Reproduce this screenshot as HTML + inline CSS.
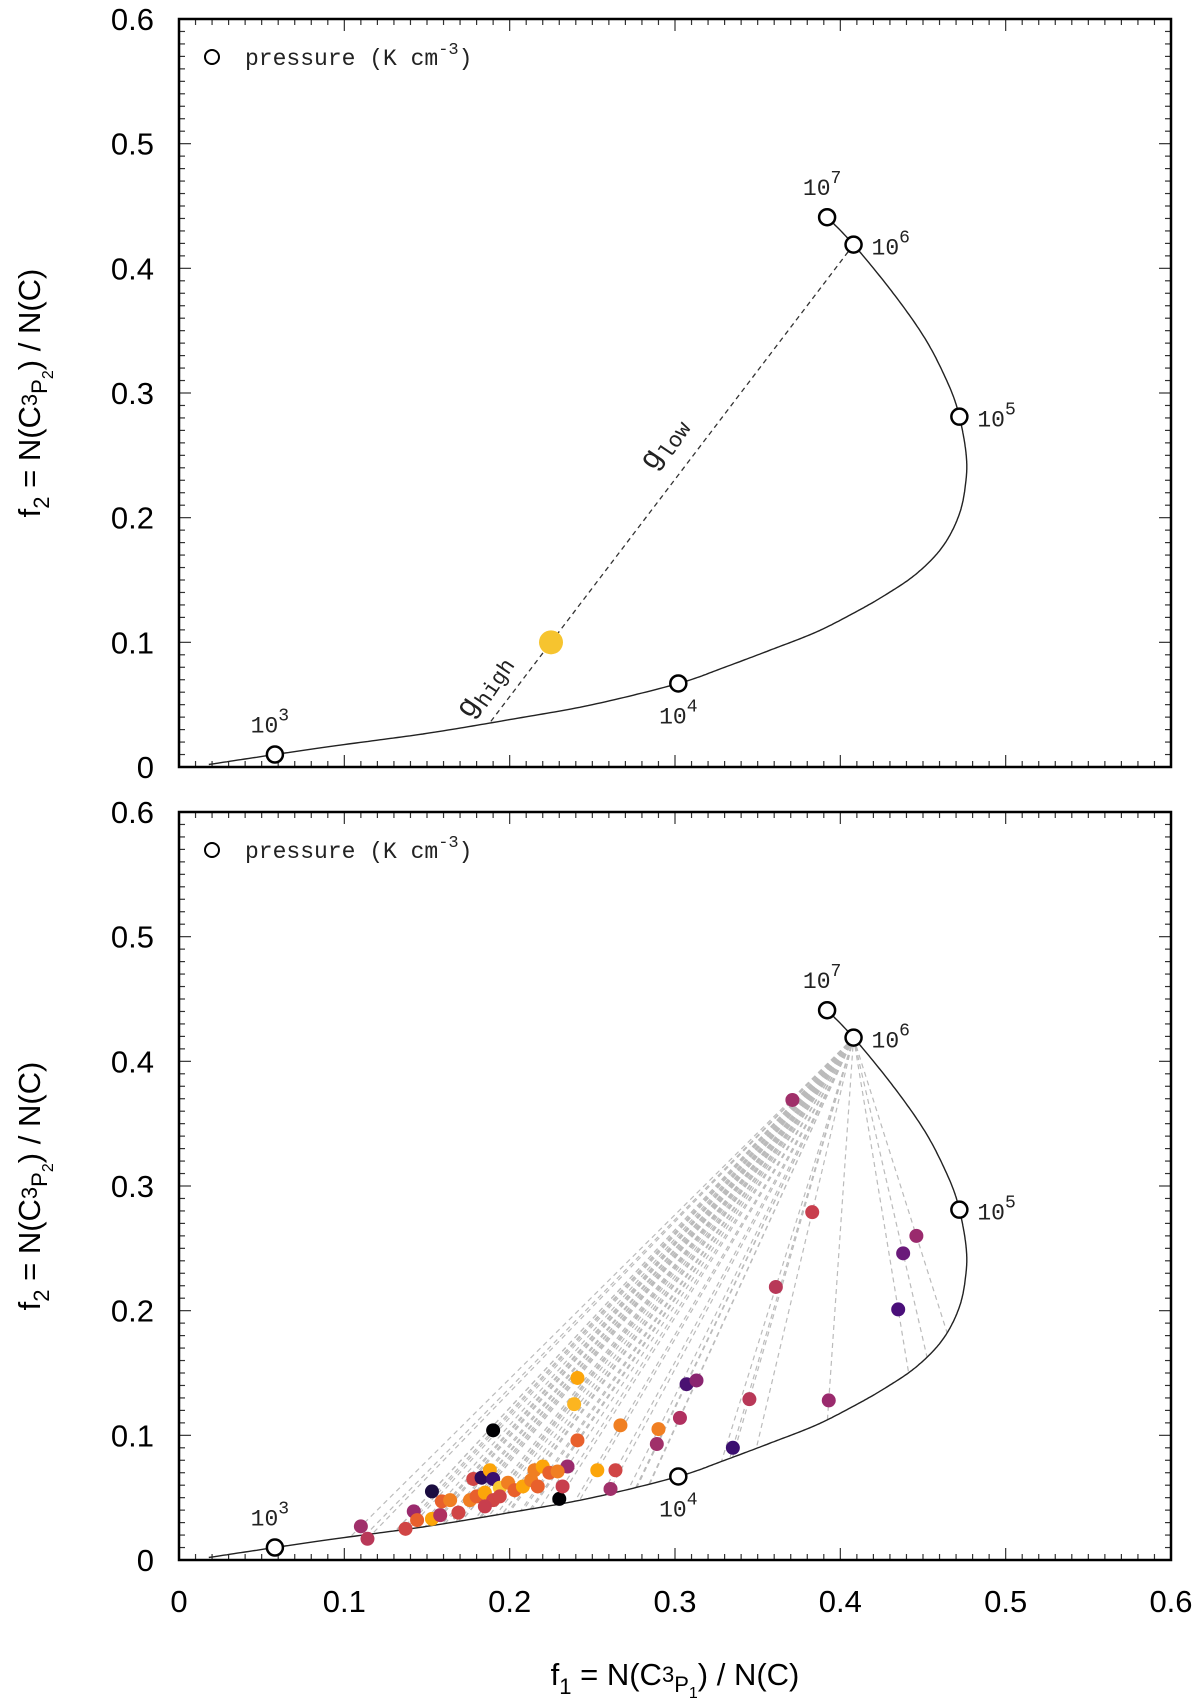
<!DOCTYPE html>
<html><head><meta charset="utf-8"><style>
body{margin:0;background:#fff}
svg{display:block}
.tl{font-family:"Liberation Sans",Arial,sans-serif;font-size:31px;fill:#000}
.mono{font-family:"Liberation Mono",monospace;font-size:23px;fill:#222}
</style></head><body>
<svg id="fig" width="1200" height="1706" viewBox="0 0 1200 1706" xmlns="http://www.w3.org/2000/svg"></svg>
<script>
// ---- data ----
const curveF1 = [0.018,0.058,0.1,0.15,0.2,0.25,0.302,0.33,0.36,0.385,0.406,0.426,0.446,0.462,0.472,0.476,0.476,0.472,0.466,0.452,0.432,0.408,0.392];
const curveF2 = [0.002,0.010,0.018,0.027,0.038,0.050,0.067,0.080,0.095,0.108,0.122,0.137,0.155,0.177,0.203,0.230,0.252,0.281,0.305,0.342,0.380,0.419,0.441];
const pressLabels = ["3","4","5","6","7"];
const pressF1 = [0.058,0.302,0.472,0.408,0.392];
const pressF2 = [0.010,0.067,0.281,0.419,0.441];
const exampleF1 = [0.225];
const exampleF2 = [0.100];
const obsF1 = [0.371,0.383,0.361,0.446,0.438,0.435,0.393,0.345,0.307,0.313,0.335,0.303,0.289,0.290,0.267,0.264,0.253,0.261,0.241,0.239,0.241,0.190,0.230,0.235,0.232,0.153,0.110,0.114,0.137,0.142,0.144,0.153,0.158,0.159,0.164,0.169,0.178,0.183,0.188,0.190,0.176,0.180,0.185,0.190,0.194,0.199,0.203,0.208,0.213,0.215,0.220,0.217,0.224,0.229,0.194,0.185];
const obsF2 = [0.369,0.279,0.219,0.260,0.246,0.201,0.128,0.129,0.141,0.144,0.090,0.114,0.093,0.105,0.108,0.072,0.072,0.057,0.146,0.125,0.096,0.104,0.049,0.075,0.059,0.055,0.027,0.017,0.025,0.039,0.032,0.033,0.036,0.047,0.048,0.038,0.065,0.066,0.072,0.065,0.048,0.051,0.054,0.048,0.058,0.062,0.056,0.059,0.064,0.072,0.075,0.059,0.070,0.071,0.051,0.043];
const obsColor = ["#a0306a","#c83e4d","#b83858","#9a2a6d","#6a1a7a","#4a0f7a","#9a2a6d","#b83858","#4a1272","#8a2570","#3b0f70","#b03060","#a0306a","#f07f22","#f07f22","#d04545","#fca50a","#a0306a","#fca50a","#fcb520","#e8602c","#000004","#000004","#9a2a6d","#c83e4d","#1a0c40","#a0306a","#b83858","#d04545","#9a2a6d","#e8602c","#fca50a","#b03060","#e8602c","#f07f22","#d04545","#d04545","#2a0c5a","#fca50a","#3b0f70","#f07f22","#e8602c","#fca50a","#d04545","#f9c932","#f07f22","#e8602c","#fca50a","#f07f22","#f07f22","#fca50a","#e8602c","#e8602c","#f07f22","#d04545","#c83e4d"];
const xTicks = [0,0.1,0.2,0.3,0.4,0.5,0.6];
const yTicks = [0,0.1,0.2,0.3,0.4,0.5,0.6];

const NS="http://www.w3.org/2000/svg";
const svg=document.getElementById('fig');
const X0=179,X1=1171;
const panels=[{top:19,bot:767,name:'top'},{top:812,bot:1560,name:'bottom'}];
function mk(tag,attrs,parent){const e=document.createElementNS(NS,tag);for(const k in attrs)e.setAttribute(k,attrs[k]);(parent||svg).appendChild(e);return e;}
const sx=v=>X0+(X1-X0)*v/0.6;

const dense=[];
(function(){
  const n=curveF1.length;
  for(let i=0;i<n-1;i++){
    const p0=[curveF1[Math.max(i-1,0)],curveF2[Math.max(i-1,0)]],p1=[curveF1[i],curveF2[i]],p2=[curveF1[i+1],curveF2[i+1]],p3=[curveF1[Math.min(i+2,n-1)],curveF2[Math.min(i+2,n-1)]];
    for(let s=0;s<20;s++){const t=s/20,t2=t*t,t3=t2*t;
      const f=k=>0.5*((2*p1[k])+(-p0[k]+p2[k])*t+(2*p0[k]-5*p1[k]+4*p2[k]-p3[k])*t2+(-p0[k]+3*p1[k]-3*p2[k]+p3[k])*t3);
      dense.push([f(0),f(1)]);}
  }
  dense.push([curveF1[n-1],curveF2[n-1]]);
})();

function hitCurve(px,py,dx,dy){
  let best=null;
  for(let i=0;i<dense.length-1;i++){
    const ax=dense[i][0],ay=dense[i][1],bx=dense[i+1][0],by=dense[i+1][1];
    const ex=bx-ax,ey=by-ay;const den=dx*ey-dy*ex;if(Math.abs(den)<1e-14)continue;
    const t=((ax-px)*ey-(ay-py)*ex)/den;const u=((ax-px)*dy-(ay-py)*dx)/den;
    if(t>1.0001&&u>=0&&u<=1&&(best===null||t<best))best=t;
  }
  return best===null?1:best;
}

panels.forEach((p,pi)=>{
  const sy=v=>p.bot-(p.bot-p.top)*v/0.6;
  const g=mk('g',{});
  
  
  for(let i=0;i<=60;i++){
    const v=i/100;const major=i%10===0;const L=major?12:6;
    const x=sx(v);
    const t1=mk('line',{x1:x,y1:p.bot,x2:x,y2:p.bot-L,stroke:'#333','stroke-width':1.2},g);
    
    const t2=mk('line',{x1:x,y1:p.top,x2:x,y2:p.top+L,stroke:'#333','stroke-width':1.2},g);
    
    const y=sy(v);
    const t3=mk('line',{x1:X0,y1:y,x2:X0+L,y2:y,stroke:'#333','stroke-width':1.2},g);
    
    const t4=mk('line',{x1:X1,y1:y,x2:X1-L,y2:y,stroke:'#333','stroke-width':1.2},g);
    
  }
  yTicks.forEach(v=>{
    const t=mk('text',{x:154,y:sy(v)+11,'text-anchor':'end',class:'tl'},g);t.textContent=String(v);
    
  });
  if(pi===1){xTicks.forEach(v=>{
    const t=mk('text',{x:sx(v),y:1612,'text-anchor':'middle',class:'tl'},g);t.textContent=String(v);
    
  });}
  const fr=mk('rect',{x:X0,y:p.top,width:X1-X0,height:p.bot-p.top,fill:'none',stroke:'#000','stroke-width':2.5},g);
  
  const cy=(p.top+p.bot)/2;
  const yt=mk('text',{transform:`translate(40,${cy}) rotate(-90)`,'text-anchor':'middle',class:'tl'},g);
  yt.innerHTML='f<tspan dy="9" style="font-size:22px">2</tspan><tspan dy="-9"> = N(C</tspan><tspan dy="-3" style="font-size:22px">3</tspan><tspan dy="10" style="font-size:22px">P</tspan><tspan dy="6" style="font-size:16px">2</tspan><tspan dy="-13">) / N(C)</tspan>';
  
  const P6x=pressF1[3],P6y=pressF2[3];
  const fx = pi===0?exampleF1:obsF1, fy = pi===0?exampleF2:obsF2;
  for(let i=0;i<fx.length;i++){
    const dx=fx[i]-P6x,dy=fy[i]-P6y;const t=hitCurve(P6x,P6y,dx,dy);
    const ln=mk('line',{x1:sx(P6x),y1:sy(P6y),x2:sx(P6x+dx*t),y2:sy(P6y+dy*t),stroke:pi===0?'#333':'#bbb','stroke-width':pi===0?1.3:1.2,'stroke-dasharray':'5,4'},g);
    
  }
  const pts=dense.map(d=>sx(d[0]).toFixed(1)+','+sy(d[1]).toFixed(1)).join(' ');
  const cv=mk('polyline',{points:pts,fill:'none',stroke:'#222','stroke-width':1.4},g);
  
  if(pi===0){
    const d=mk('circle',{cx:sx(exampleF1[0]),cy:sy(exampleF2[0]),r:12,fill:'#f6c42f'},g);
    
    const gl=mk('text',{transform:`translate(${sx(0.287)},${sy(0.237)}) rotate(-56)`,class:'mono',style:'font-size:30px'},g);
    gl.innerHTML='g<tspan dy="7" style="font-size:22px">low</tspan>';
    
    const gh=mk('text',{transform:`translate(${sx(0.176)},${sy(0.038)}) rotate(-56)`,class:'mono',style:'font-size:30px'},g);
    gh.innerHTML='g<tspan dy="7" style="font-size:22px">high</tspan>';
    
  } else {
    for(let i=0;i<obsF1.length;i++){
      const d=mk('circle',{cx:sx(obsF1[i]),cy:sy(obsF2[i]),r:7,fill:obsColor[i]},g);
      
    }
  }
  const off=[[-5,-22,'middle'],[0,40,'middle'],[18,10,'start'],[18,10,'start'],[-5,-22,'middle']];
  for(let i=0;i<pressF1.length;i++){
    const cx=sx(pressF1[i]),cyy=sy(pressF2[i]);
    const c=mk('circle',{cx:cx,cy:cyy,r:8,fill:'#fff',stroke:'#000','stroke-width':2.5},g);
    
    const t=mk('text',{x:cx+off[i][0],y:cyy+off[i][1],'text-anchor':off[i][2],class:'mono'},g);
    t.innerHTML='10<tspan dy="-12" style="font-size:18px">'+pressLabels[i]+'</tspan>';
    
  }
  const lc=mk('circle',{cx:212,cy:p.top+38,r:7,fill:'#fff',stroke:'#000','stroke-width':2},g);
  
  const lt=mk('text',{x:245,y:p.top+46,class:'mono'},g);
  lt.innerHTML='pressure (K cm<tspan dy="-11" style="font-size:17px">-3</tspan><tspan dy="11">)</tspan>';
  
});
const xt=mk('text',{x:675,y:1685,'text-anchor':'middle',class:'tl'});
xt.innerHTML='f<tspan dy="9" style="font-size:22px">1</tspan><tspan dy="-9"> = N(C</tspan><tspan dy="-3" style="font-size:22px">3</tspan><tspan dy="10" style="font-size:22px">P</tspan><tspan dy="6" style="font-size:16px">1</tspan><tspan dy="-13">) / N(C)</tspan>';


</script>
</body></html>
